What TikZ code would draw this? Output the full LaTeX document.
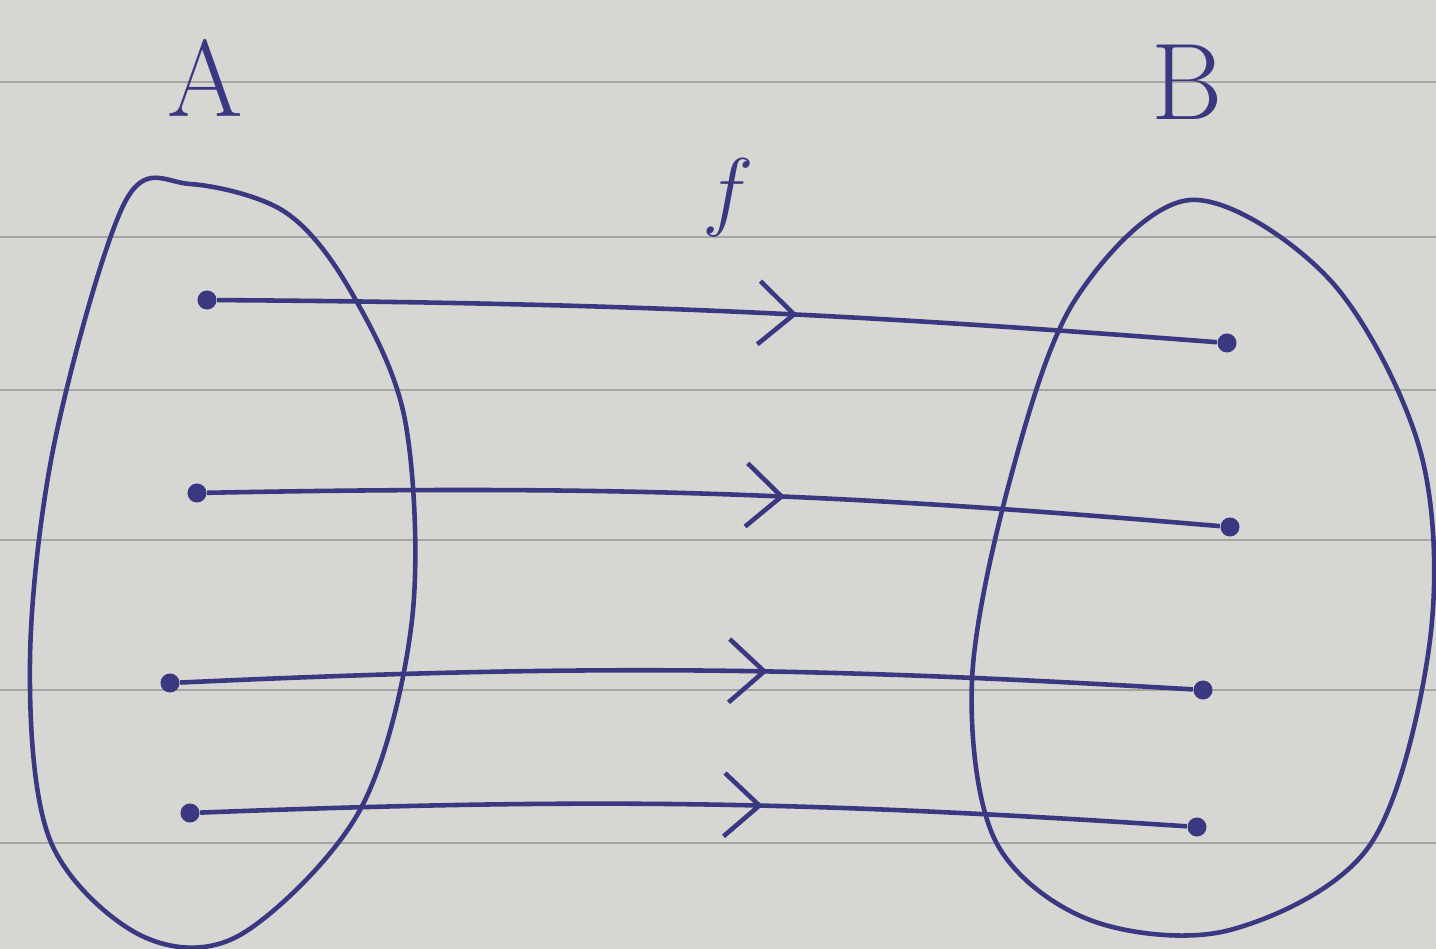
\documentclass[tikz,border=0pt]{standalone}
\usetikzlibrary{arrows.meta,decorations.markings}
\definecolor{ink}{RGB}{58,56,128}
\definecolor{paper}{RGB}{214,214,211}
\definecolor{rule}{RGB}{165,165,163}

\begin{document}
\begin{tikzpicture}[x=0.01cm,y=-0.01cm,
    dot/.style={circle,fill=ink,inner sep=0pt,minimum size=0.19cm},
    setname/.style={text=ink,font=\fontsize{31}{31}\selectfont},
    map/.style={ink,line width=1.3pt,postaction={decorate},
      decoration={markings,mark=at position #1 with {\arrow{Straight Barb[length=10pt,width=18pt]}}}},
    map/.default=0.58]
        % Paper
        \useasboundingbox (0,0) rectangle (1436,949);
        \fill[paper] (0,0) rectangle (1436,949);
        \foreach \y in {82,237,390,540,690,843}
            \draw[rule,line width=0.7pt] (0,\y) -- (1436,\y);

        % Set names
        \node[setname] (nameA) at (205,78) {A};
        \node[setname] (nameB) at (1187,82) {B};
        \node[setname] (fname) at (728,198) {$f$};

        % Set A
        \draw[ink,line width=1.3pt] plot[smooth cycle,tension=0.55] coordinates {
            (190,184) (285,212) (350,290) (405,420) (412,620) (360,810)
            (240,935) (140,935) (50,840) (30,660) (55,440) (125,202)};

        % Set B
        \draw[ink,line width=1.3pt] plot[smooth cycle,tension=0.55] coordinates {
            (1190,200) (1330,280) (1420,450) (1430,640) (1370,845) (1230,930)
            (1090,920) (995,840) (972,680) (1010,480) (1075,300)};

        % Elements
        \node[dot] (a1) at (207,300) {};
        \node[dot] (a2) at (197,493) {};
        \node[dot] (a3) at (170,683) {};
        \node[dot] (a4) at (190,813) {};
        \node[dot] (b1) at (1227,343) {};
        \node[dot] (b2) at (1230,527) {};
        \node[dot] (b3) at (1203,690) {};
        \node[dot] (b4) at (1197,827) {};

        % Mapping
        \draw[map] (a1) to[bend left=2] (b1);
        \draw[map=0.57] (a2) to[bend left=3] (b2);
        \draw[map] (a3) to[bend left=3] (b3);
        \draw[map=0.57] (a4) to[bend left=3] (b4);
\end{tikzpicture}
\end{document}
